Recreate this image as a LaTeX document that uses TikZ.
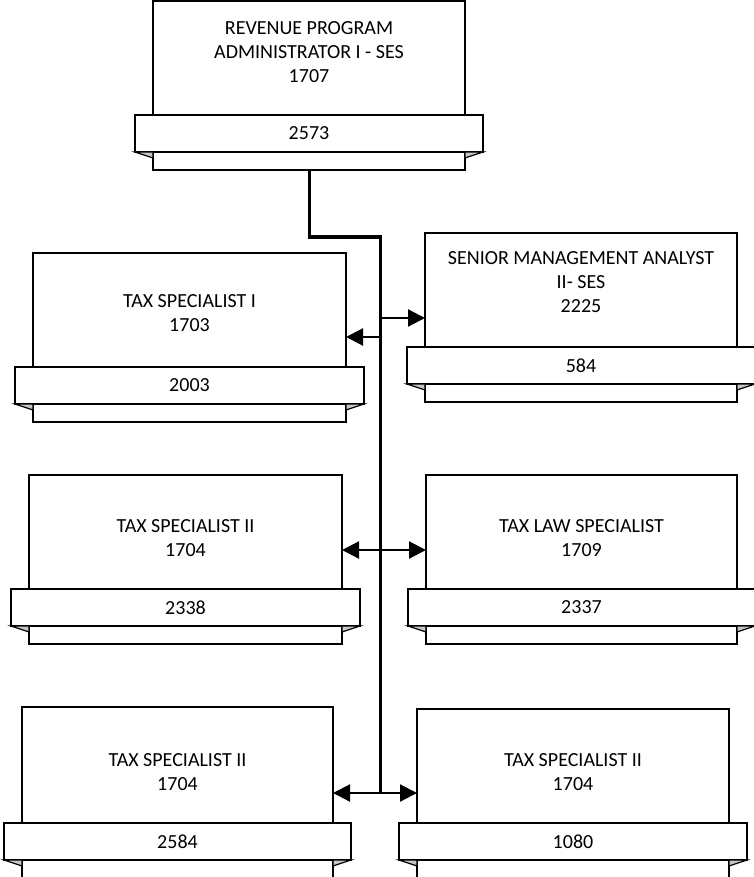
\documentclass[tikz,border=0pt]{standalone}
\usepackage{fontspec}
\setmainfont{Carlito}
\usetikzlibrary{arrows.meta}

\tikzset{
  bodybox/.style={draw, line width=1.5pt, fill=white, inner sep=0pt, outer sep=0pt},
  ribbonbox/.style={draw, line width=1.5pt, fill=white, inner sep=0pt, outer sep=0pt,
                    font=\fontsize{20}{24}\selectfont},
  fold/.style={draw, line width=1.2pt, fill=black!22, line join=miter},
  titletext/.style={align=center, inner sep=0pt, font=\fontsize{20}{24}\selectfont},
  trunk/.style={line width=3pt, line join=miter},
  branch/.style={line width=2.2pt, -{Triangle[length=17pt,width=17pt]}},
}

% #1 name, #2 left, #3 right, #4 top of body, #5 top of ribbon,
% #6 y of title centre, #7 title, #8 position number
\newcommand\orgbox[8]{%
  \node[bodybox, anchor=north west, minimum width={#3-#2},
        minimum height={#5+55-#4}] (#1) at (#2,#4) {};
  \node[ribbonbox, anchor=north west, minimum width={#3-#2+36},
        minimum height=37] (#1r) at ({#2-18},#5) {#8};
  \filldraw[fold] (#1r.south west) -- ++(18,6) -- ++(0,-6) -- cycle;
  \filldraw[fold] (#1r.south east) -- ++(-18,6) -- ++(0,-6) -- cycle;
  \node[titletext] (#1t) at ({(#2+#3)/2},#6) {#7};
}

\begin{document}
\begin{tikzpicture}[x=1pt, y=-1pt]
  \useasboundingbox (0,0) rectangle (754,877);

  \orgbox{A}{153}{465}{1}{115}{52}{REVENUE PROGRAM\\ADMINISTRATOR I - SES\\1707}{2573}
  \orgbox{B}{33}{346}{253}{367}{313.5}{TAX SPECIALIST I\\1703}{2003}
  \orgbox{C}{425}{737}{233}{347}{282}{SENIOR MANAGEMENT ANALYST\\II- SES\\2225}{584}
  \orgbox{D}{29}{342}{475}{589}{538.5}{TAX SPECIALIST II\\1704}{2338}
  \orgbox{E}{426}{737}{475}{589}{538.5}{TAX LAW SPECIALIST\\1709}{2337}
  \orgbox{F}{22}{333}{707}{823}{772}{TAX SPECIALIST II\\1704}{2584}
  \orgbox{G}{417}{729}{709}{823}{772.5}{TAX SPECIALIST II\\1704}{1080}

  % reporting line from the administrator down the spine
  \coordinate (bend) at (309,237);
  \coordinate (spineEnd) at (380,793);
  \draw[trunk] (A.south) -- (bend) -| (spineEnd);

  % branches off the spine
  \coordinate (jB) at (380,337);
  \coordinate (jC) at (380,318);
  \coordinate (jDE) at (380,550);
  \draw[branch] (jC) -- (C.west |- jC);
  \draw[branch] (jB) -- (B.east |- jB);
  \draw[branch] (jDE) -- (D.east |- jDE);
  \draw[branch] (jDE) -- (E.west |- jDE);
  \draw[branch] (spineEnd) -- (F.east |- spineEnd);
  \draw[branch] (spineEnd) -- (G.west |- spineEnd);
\end{tikzpicture}
\end{document}
